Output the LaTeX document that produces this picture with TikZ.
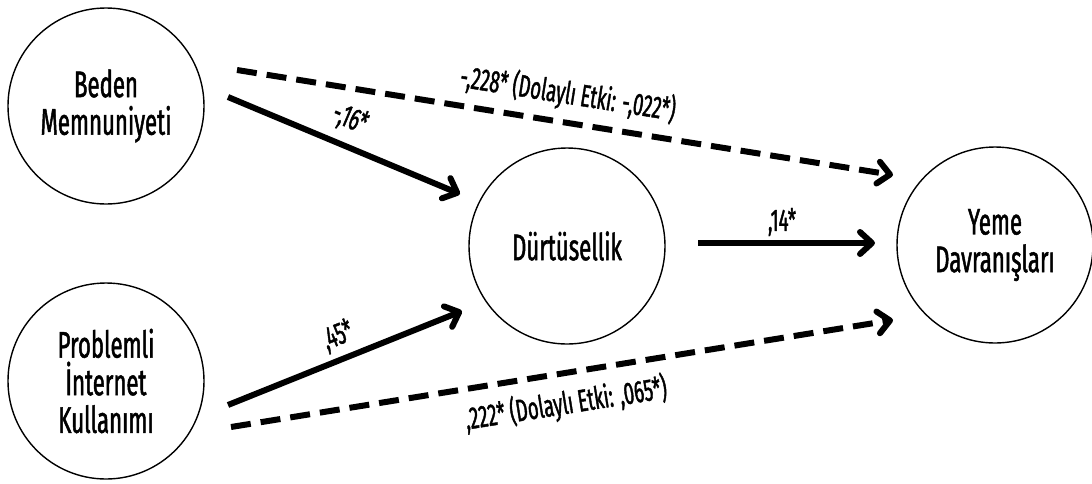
\documentclass[tikz,border=0pt]{standalone}
\usepackage{fontspec}
\setmainfont{Fira Sans}[FakeStretch=0.6,FakeBold=1.3]
\usetikzlibrary{arrows.meta}
\begin{document}
\begin{tikzpicture}[x=0.5pt,y=-0.5pt,
  var/.style={circle,draw,line width=0.7pt,minimum size=98pt,inner sep=0pt,align=center,
    font=\fontsize{18.5}{18.8}\selectfont},
  effect/.style={line width=3pt,-{Straight Barb[length=6pt,width=11pt,round]}},
  indirect/.style={effect,dash pattern=on 10pt off 5pt},
  lab/.style={font=\fontsize{15.5}{16}\selectfont,inner sep=1pt}]
\useasboundingbox (0,0) rectangle (1092,483);
% variables
\node[var] (bm) at (106,106) {Beden\\Memnuniyeti};
\node[var] (pik) at (106,381) {Problemli\\İnternet\\Kullanımı};
\node[var] (dt) at (567,246) {Dürtüsellik};
\node[var] (yd) at (995,245) {Yeme\\Davranışları};
% connector end points
\coordinate (bmA) at (228,97);
\coordinate (dtA) at (460,194);
\coordinate (bmB) at (237,70);
\coordinate (ydB) at (893,175);
\coordinate (pikA) at (228,405);
\coordinate (dtB) at (462,311);
\coordinate (pikB) at (231,427);
\coordinate (ydC) at (893,320);
\coordinate (dtC) at (698,243);
\coordinate (ydA) at (875,243);
% paths
\draw[effect] (bmA) -- (dtA);
\draw[indirect] (bmB) -- (ydB);
\draw[effect] (pikA) -- (dtB);
\draw[indirect] (pikB) -- (ydC);
\draw[effect] (dtC) -- (ydA);
% labels
\node[lab,rotate=-9] (l1) at (568,94) {-,228* (Dolaylı Etki: -,022*)};
\node[lab,rotate=-23] (l2) at (350,119) {-,16*};
\node[lab,rotate=22] (l3) at (338,336) {,45*};
\node[lab] (l4) at (782,222) {,14*};
\node[lab,rotate=9] (l5) at (566,404) {,222* (Dolaylı Etki: ,065*)};
\end{tikzpicture}
\end{document}
